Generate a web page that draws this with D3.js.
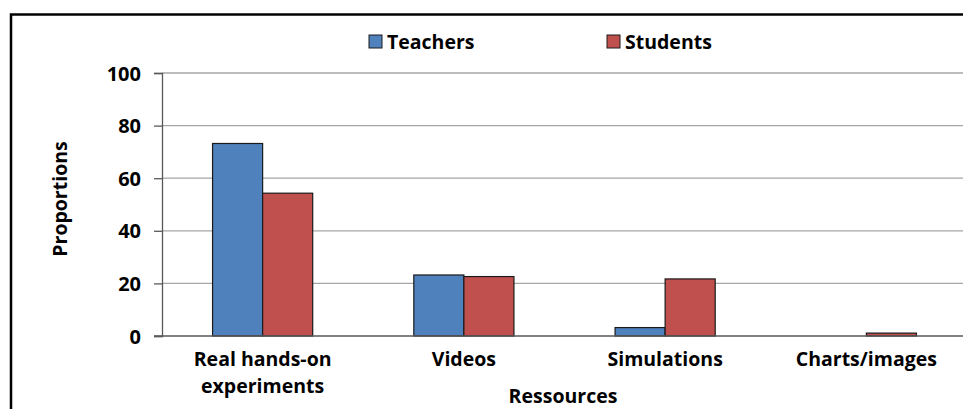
<!DOCTYPE html>
<html>
<head>
<meta charset="utf-8">
<script src="https://cdn.jsdelivr.net/npm/d3@7"></script>
<style>
  body { margin: 0; background: #fff; }
  text { font-family: "Open Sans", "Liberation Sans", sans-serif; font-weight: bold; fill: #000; }
</style>
</head>
<body>
<svg id="chart" width="963" height="409"></svg>
<script>
// Data
const categories = [["Real hands-on", "experiments"], ["Videos"], ["Simulations"], ["Charts/images"]];
const seriesNames = ["Teachers", "Students"];
const teachers = [73.2, 23.2, 3.2, 0];
const students = [54.3, 22.6, 21.7, 1.1];
const yTicks = [0, 20, 40, 60, 80, 100];
const colors = ["#4F81BD", "#C0504D"];

const svg = d3.select("#chart");
const margin = {left: 162, right: -4, top: 73, bottom: 73};
const width = 963, height = 409;

// outer frame
svg.append("rect")
    .attr("x", 11).attr("y", 14.5)
    .attr("width", 980).attr("height", 420)
    .attr("fill", "none")
    .attr("stroke", "#000")
    .attr("stroke-width", 2.5);

const x = d3.scaleBand()
    .domain(d3.range(categories.length))
    .range([margin.left, width - margin.right])
    .paddingInner(0)
    .paddingOuter(0);

const xs = d3.scaleBand()
    .domain(seriesNames)
    .range([0, x.bandwidth()])
    .paddingInner(0)
    .paddingOuter(1.01);

const y = d3.scaleLinear()
    .domain([0, 100])
    .range([336, margin.top]);

// gridlines
svg.append("g")
    .selectAll("line")
    .data(yTicks.slice(1))
    .enter()
    .append("line")
    .attr("x1", margin.left).attr("x2", width)
    .attr("y1", d => y(d)).attr("y2", d => y(d))
    .attr("stroke", "#a6a6a6")
    .attr("stroke-width", 1.3);

// bars
const rows = categories.map((c, i) => [teachers[i], students[i]]);
const groups = svg.append("g")
    .selectAll("g")
    .data(rows)
    .enter()
    .append("g")
    .attr("transform", (d, i) => `translate(${x(i)},0)`);

groups.selectAll("rect")
    .data(d => d.map((v, j) => ({v, s: seriesNames[j], j})))
    .enter()
    .filter(d => d.v > 0)
    .append("rect")
    .attr("x", d => xs(d.s))
    .attr("y", d => y(d.v))
    .attr("width", xs.bandwidth())
    .attr("height", d => y(0) - y(d.v))
    .attr("fill", d => colors[d.j])
    .attr("stroke", "#1a1a1a")
    .attr("stroke-width", 1.2);

// y axis
const yAxis = d3.axisLeft(y)
    .tickValues(yTicks)
    .tickSize(8)
    .tickPadding(13);
const yg = svg.append("g")
    .attr("transform", `translate(${margin.left},0)`)
    .call(yAxis);
yg.select(".domain").attr("stroke", "#595959").attr("stroke-width", 1.3);
yg.selectAll(".tick line").attr("stroke", "#595959").attr("stroke-width", 1.3);
yg.selectAll(".tick text").style("font-size", "20px").attr("dy", "0.35em");

// x axis baseline
svg.append("line")
    .attr("x1", margin.left - 8).attr("x2", width)
    .attr("y1", y(0)).attr("y2", y(0))
    .attr("stroke", "#595959")
    .attr("stroke-width", 1.5);

// category labels
const labels = svg.append("g")
    .selectAll("text")
    .data(categories)
    .enter()
    .append("text")
    .attr("text-anchor", "middle")
    .style("font-size", "19.5px")
    .attr("transform", (d, i) => `translate(${x(i) + x.bandwidth() / 2},366)`);
labels.selectAll("tspan")
    .data(d => d)
    .enter()
    .append("tspan")
    .attr("x", 0)
    .attr("y", (d, i) => i * 27)
    .text(d => d);

// axis titles
svg.append("text")
    .attr("x", 563).attr("y", 403)
    .attr("text-anchor", "middle")
    .style("font-size", "19.5px")
    .text("Ressources");

svg.append("text")
    .attr("transform", "translate(67,199) rotate(-90)")
    .attr("text-anchor", "middle")
    .style("font-size", "19.5px")
    .text("Proportions");

// legend
const legendX = [369, 607];
const legend = svg.append("g")
    .selectAll("g")
    .data(seriesNames)
    .enter()
    .append("g")
    .attr("transform", (d, i) => `translate(${legendX[i]},35)`);
legend.append("rect")
    .attr("width", 13).attr("height", 13)
    .attr("fill", (d, i) => colors[i])
    .attr("stroke", "#1a1a1a")
    .attr("stroke-width", 1);
legend.append("text")
    .attr("x", 18).attr("y", 14)
    .style("font-size", "19.5px")
    .text(d => d);
</script>
</body>
</html>
